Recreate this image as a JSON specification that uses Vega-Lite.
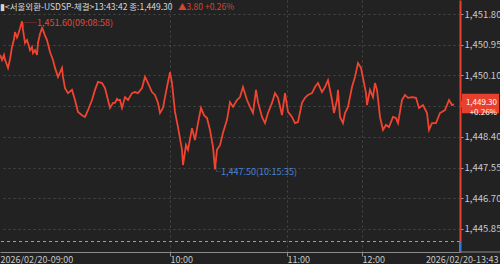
{
  "$schema": "https://vega.github.io/schema/vega-lite/v6.json",
  "width": 460,
  "height": 252,
  "autosize": {"type": "none"},
  "padding": {"left": 0, "top": 0, "right": 40, "bottom": 12},
  "background": "#222222",
  "config": {"view": {"stroke": null}, "font": "Liberation Sans Narrow, Noto Sans CJK KR, sans-serif",
    "axis": {"labelOverlap": false, "labelBound": false}},
  "datasets": {
    "ticks": [
      {"t":0,"v":1450.67},{"t":2,"v":1450.53},{"t":4,"v":1450.67},{"t":5,"v":1450.53},{"t":7,"v":1450.39},{"t":8,"v":1450.31},
      {"t":10,"v":1450.55},{"t":12,"v":1450.89},{"t":14,"v":1451.10},{"t":15,"v":1451.30},{"t":17,"v":1451.15},{"t":18,"v":1451.22},
      {"t":20,"v":1451.40},{"t":22,"v":1451.60},{"t":23,"v":1451.36},{"t":25,"v":1451.00},{"t":27,"v":1451.08},{"t":29,"v":1450.90},
      {"t":30,"v":1450.80},{"t":32,"v":1450.89},{"t":33,"v":1450.72},{"t":35,"v":1450.80},{"t":37,"v":1450.67},{"t":38,"v":1451.00},
      {"t":40,"v":1451.25},{"t":42,"v":1451.41},{"t":43,"v":1451.36},{"t":45,"v":1451.20},{"t":47,"v":1451.08},{"t":50,"v":1450.75},
      {"t":53,"v":1450.53},{"t":55,"v":1450.31},{"t":58,"v":1450.06},{"t":62,"v":1450.31},{"t":63,"v":1450.06},{"t":65,"v":1449.75},
      {"t":68,"v":1449.61},{"t":72,"v":1449.70},{"t":75,"v":1449.42},{"t":78,"v":1449.09},{"t":82,"v":1449.00},{"t":85,"v":1448.95},
      {"t":88,"v":1449.14},{"t":92,"v":1449.42},{"t":95,"v":1449.70},{"t":98,"v":1449.92},{"t":102,"v":1449.89},{"t":105,"v":1449.75},
      {"t":108,"v":1449.42},{"t":110,"v":1449.20},{"t":113,"v":1449.34},{"t":115,"v":1449.34},{"t":117,"v":1449.45},{"t":118,"v":1449.42},
      {"t":120,"v":1449.42},{"t":122,"v":1449.20},{"t":125,"v":1449.50},{"t":128,"v":1449.42},{"t":132,"v":1449.61},{"t":135,"v":1449.64},
      {"t":138,"v":1449.61},{"t":142,"v":1449.75},{"t":145,"v":1450.06},{"t":148,"v":1449.89},{"t":152,"v":1449.64},{"t":155,"v":1449.56},
      {"t":158,"v":1449.34},{"t":160,"v":1449.06},{"t":163,"v":1449.20},{"t":165,"v":1449.50},{"t":168,"v":1449.92},{"t":170,"v":1450.19},
      {"t":172,"v":1449.89},{"t":175,"v":1449.09},{"t":178,"v":1448.67},{"t":182,"v":1448.04},{"t":183,"v":1447.62},{"t":186,"v":1448.17},
      {"t":188,"v":1448.04},{"t":192,"v":1448.64},{"t":195,"v":1448.31},{"t":198,"v":1448.78},{"t":201,"v":1449.20},{"t":204,"v":1449.00},
      {"t":207,"v":1448.92},{"t":210,"v":1448.59},{"t":213,"v":1448.12},{"t":215,"v":1447.50},{"t":217,"v":1448.04},{"t":220,"v":1448.17},
      {"t":223,"v":1448.51},{"t":227,"v":1448.87},{"t":230,"v":1449.36},{"t":233,"v":1449.23},{"t":237,"v":1449.42},{"t":240,"v":1449.50},
      {"t":243,"v":1449.78},{"t":247,"v":1449.42},{"t":250,"v":1449.23},{"t":253,"v":1449.06},{"t":256,"v":1449.70},{"t":258,"v":1449.36},
      {"t":262,"v":1448.95},{"t":265,"v":1448.78},{"t":268,"v":1449.06},{"t":272,"v":1449.34},{"t":275,"v":1449.61},{"t":278,"v":1449.48},
      {"t":282,"v":1449.00},{"t":285,"v":1449.61},{"t":288,"v":1449.09},{"t":292,"v":1448.95},{"t":295,"v":1448.78},{"t":298,"v":1448.81},
      {"t":302,"v":1449.34},{"t":305,"v":1449.48},{"t":308,"v":1449.56},{"t":312,"v":1449.61},{"t":315,"v":1449.78},{"t":318,"v":1449.89},
      {"t":322,"v":1449.64},{"t":325,"v":1449.78},{"t":328,"v":1449.97},{"t":332,"v":1449.42},{"t":334,"v":1449.06},{"t":337,"v":1449.42},
      {"t":338,"v":1449.70},{"t":340,"v":1448.95},{"t":343,"v":1448.78},{"t":345,"v":1449.06},{"t":348,"v":1449.23},{"t":352,"v":1449.78},
      {"t":355,"v":1450.06},{"t":358,"v":1450.44},{"t":361,"v":1450.31},{"t":363,"v":1450.03},{"t":366,"v":1449.61},{"t":367,"v":1449.28},
      {"t":370,"v":1449.70},{"t":373,"v":1449.50},{"t":375,"v":1449.89},{"t":377,"v":1449.70},{"t":380,"v":1448.95},{"t":383,"v":1448.59},
      {"t":386,"v":1448.73},{"t":389,"v":1448.67},{"t":393,"v":1448.95},{"t":396,"v":1448.92},{"t":398,"v":1448.78},{"t":402,"v":1449.42},
      {"t":405,"v":1449.56},{"t":408,"v":1449.48},{"t":412,"v":1449.50},{"t":416,"v":1449.48},{"t":419,"v":1449.20},{"t":423,"v":1449.28},
      {"t":427,"v":1449.06},{"t":429,"v":1448.59},{"t":432,"v":1448.78},{"t":436,"v":1448.78},{"t":440,"v":1449.06},{"t":445,"v":1449.14},
      {"t":449,"v":1449.42},{"t":452,"v":1449.28},{"t":454,"v":1449.30}
    ],
    "hi": [{"t":22,"v":1451.60,"label":"┌─1,451.60(09:08:58)"}],
    "lo": [{"t":215,"v":1447.50,"label":"└1,447.50(10:15:35)"}],
    "last": [{"t":454,"v":1449.30,"label":"1,449.30\n+0.26%"}],
    "prev": [{"prev":1445.50}],
    "head": [{"main":"▮<서울외환-USDSP-체결>13:43:42 종:1,449.30","chg":"▲3.80 +0.26%"}]
  },
  "layer": [
    {
      "data": {"name": "ticks"},
      "mark": {"type": "line", "interpolate": "linear", "color": "#ee4430", "strokeWidth": 1.8},
      "encoding": {
        "x": {"field": "t", "type": "quantitative", "scale": {"domain": [0, 460], "nice": false, "zero": false},
          "axis": {"title": null, "values": [0, 170, 287, 362, 460], "tickCount": 20,
            "labelExpr": "datum.value==0?'2026/02/20-09:00':datum.value==170?'10:00':datum.value==287?'11:00':datum.value==362?'12:00':'2026/02/20-13:43'",
            "domainColor": "#8a8a8a", "tickColor": "#8a8a8a", "tickSize": 4, "labelColor": "#c8c8c8", "labelFontSize": 9, "labelPadding": -1,
            "labelFlush": false, "labelOverlap": false, "grid": true, "gridColor": "#474747", "gridDash": [2, 3],
            "labelAlign": {"condition": {"test": "datum.value >= 460", "value": "right"}, "value": "left"},
            "labelOffset": {"condition": {"test": "datum.value >= 460", "value": 38}, "value": 0},
            "tickOpacity": {"condition": {"test": "datum.value == 0 || datum.value >= 460", "value": 0}, "value": 1},
            "gridOpacity": {"condition": {"test": "datum.value == 0 || datum.value >= 460", "value": 0}, "value": 1}}},
        "y": {"field": "v", "type": "quantitative", "scale": {"domain": [1445.21, 1452.19], "nice": false, "zero": false},
          "axis": {"title": null, "orient": "right", "values": [1445.85, 1446.70, 1447.55, 1448.40, 1449.25, 1450.10, 1450.95, 1451.80],
            "tickCount": 20, "format": ",.2f", "domainColor": "#e8402e", "domainWidth": 2, "tickColor": "#9a9a9a", "tickSize": 3, "labelOverlap": false,
            "labelExpr": "datum.value == 1449.25 ? '' : datum.label",
            "labelColor": "#c8c8c8", "labelFontSize": 9.5, "labelPadding": 1, "grid": true, "gridColor": "#474747", "gridDash": [2, 3]}}
      }
    },
    {
      "data": {"name": "prev"},
      "mark": {"type": "rule", "color": "#a0a0a0", "strokeDash": [3, 3], "strokeWidth": 1},
      "encoding": {"y": {"field": "prev", "type": "quantitative"}}
    },
    {
      "data": {"name": "prev"},
      "mark": {"type": "rule", "color": "#8a8a8a", "strokeWidth": 1},
      "encoding": {"x": {"datum": 460}, "x2": {"datum": 500}, "y": {"datum": 1445.21}}
    },
    {
      "data": {"name": "prev"},
      "mark": {"type": "rule", "color": "#3a78d8", "strokeWidth": 2},
      "encoding": {"x": {"datum": 460}, "y": {"field": "prev", "type": "quantitative"}, "y2": {"datum": 1445.21}}
    },
    {
      "data": {"name": "hi"},
      "mark": {"type": "text", "align": "left", "baseline": "middle", "color": "#e04a3a", "fontSize": 9, "dy": 2, "dx": -3},
      "encoding": {"x": {"field": "t", "type": "quantitative"}, "y": {"field": "v", "type": "quantitative"}, "text": {"field": "label"}}
    },
    {
      "data": {"name": "lo"},
      "mark": {"type": "text", "align": "left", "baseline": "middle", "color": "#4a84d8", "fontSize": 9, "dy": 3, "dx": -3},
      "encoding": {"x": {"field": "t", "type": "quantitative"}, "y": {"field": "v", "type": "quantitative"}, "text": {"field": "label"}}
    },
    {
      "data": {"name": "last"},
      "mark": {"type": "point", "filled": true, "color": "#e8402e", "opacity": 1, "size": 4,
        "shape": "M6,-1 L8,-4 L8,-10.5 L45,-10.5 L45,9 L8,9 L8,2 Z"},
      "encoding": {"x": {"field": "t", "type": "quantitative"}, "y": {"field": "v", "type": "quantitative"}}
    },
    {
      "data": {"name": "last"},
      "mark": {"type": "text", "align": "right", "baseline": "middle", "color": "#ffffff", "fontSize": 8, "lineBreak": "\n", "lineHeight": 10, "dx": 43, "dy": -1},
      "encoding": {"x": {"field": "t", "type": "quantitative"}, "y": {"field": "v", "type": "quantitative"}, "text": {"field": "label"}}
    },
    {
      "data": {"name": "head"},
      "mark": {"type": "text", "align": "left", "baseline": "middle", "color": "#d8d8d8", "fontSize": 8.5, "dy": 7},
      "encoding": {"x": {"datum": 0}, "y": {"datum": 1452.19}, "text": {"field": "main"}}
    },
    {
      "data": {"name": "head"},
      "mark": {"type": "text", "align": "left", "baseline": "middle", "color": "#d8442f", "fontSize": 8.5, "dy": 7, "dx": 178},
      "encoding": {"x": {"datum": 0}, "y": {"datum": 1452.19}, "text": {"field": "chg"}}
    }
  ]
}
